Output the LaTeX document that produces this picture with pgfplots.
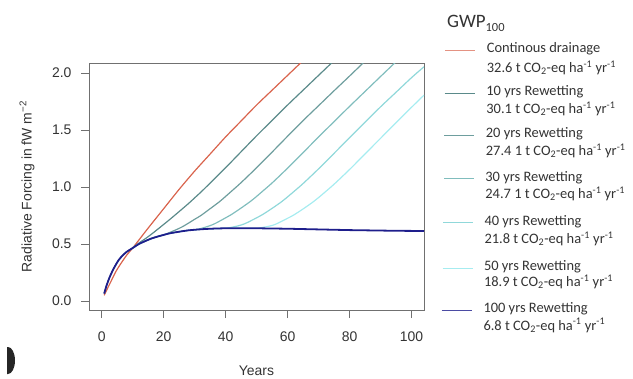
\documentclass[border=0pt]{standalone}
\usepackage{pgfplots}
\pgfplotsset{compat=1.18}
\usepackage{fontspec}
\setmainfont{Liberation Sans}
\newfontfamily\calfont{Carlito}
\definecolor{boxgray}{HTML}{707070}
\definecolor{txt}{HTML}{333333}
\definecolor{cred}{HTML}{D9634C}
\definecolor{cten}{HTML}{5A8A8A}
\definecolor{ctwenty}{HTML}{6E9E9E}
\definecolor{cthirty}{HTML}{80BDBD}
\definecolor{cforty}{HTML}{90D8DA}
\definecolor{cfifty}{HTML}{A6ECF0}
\definecolor{cblue}{HTML}{1E1E8C}

\pgfplotstableread{
x y
0.8 0.05
1.5 0.09
2.5 0.145
3.5 0.2
4.5 0.255
5.5 0.30
6.6 0.345
8 0.40
10 0.465
12 0.535
15 0.64
20 0.81
25 0.98
30 1.14
35 1.29
40 1.44
45 1.58
50 1.72
55 1.85
60 1.98
65 2.11
}\red

\pgfplotstableread{
x y
0.8 0.065
1.5 0.13
2.5 0.205
3.5 0.265
4.5 0.316
5.5 0.36
6.6 0.395
8 0.43
10 0.465
11 0.488
12 0.508
13 0.527
14 0.545
16 0.585
18 0.628
20 0.672
22 0.716
25 0.785
28 0.855
30 0.905
32 0.955
35 1.035
40 1.17
45 1.31
50 1.45
55 1.585
60 1.72
65 1.85
70 1.98
75 2.11
}\ten

\pgfplotstableread{
x y
10 0.465
12 0.50
14 0.525
16 0.548
18 0.565
20 0.58
21 0.59
22 0.602
24 0.625
26 0.651
28 0.683
30 0.717
32 0.75
35 0.81
38 0.871
40 0.918
42 0.966
45 1.039
50 1.17
55 1.307
60 1.446
65 1.583
70 1.714
75 1.845
80 1.974
85 2.105
}\twenty

\pgfplotstableread{
x y
10 0.465
12 0.50
14 0.525
16 0.548
18 0.565
20 0.58
22 0.594
25 0.608
28 0.62
30 0.625
31 0.630
32 0.636
34 0.652
36 0.672
38 0.70
40 0.73
42 0.761
45 0.816
48 0.874
50 0.918
52 0.965
55 1.036
60 1.166
65 1.302
70 1.44
75 1.574
80 1.708
85 1.839
90 1.97
95 2.10
}\thirty

\pgfplotstableread{
x y
10 0.465
12 0.50
14 0.525
16 0.548
18 0.565
20 0.58
22 0.594
25 0.608
28 0.62
30 0.625
33 0.631
36 0.635
40 0.638
41 0.642
42 0.647
44 0.659
46 0.676
48 0.702
50 0.73
52 0.76
55 0.813
58 0.87
60 0.914
62 0.96
65 1.031
70 1.16
75 1.296
80 1.434
85 1.569
90 1.704
95 1.832
100 1.96
104 2.055
}\forty

\pgfplotstableread{
x y
10 0.465
12 0.50
14 0.525
16 0.548
18 0.565
20 0.58
22 0.594
25 0.608
28 0.62
30 0.625
33 0.631
36 0.635
40 0.638
45 0.639
50 0.638
51 0.641
52 0.646
54 0.656
56 0.672
58 0.698
60 0.726
62 0.755
65 0.808
68 0.865
70 0.908
72 0.954
75 1.025
80 1.154
85 1.291
90 1.428
95 1.564
100 1.70
104 1.806
}\fifty

\pgfplotstableread{
x y
0.8 0.065
1.5 0.13
2.5 0.205
3.5 0.265
4.5 0.316
5.5 0.36
6.6 0.395
8 0.43
10 0.465
12 0.50
14 0.525
16 0.548
18 0.565
20 0.58
22 0.594
25 0.608
28 0.62
30 0.625
33 0.631
36 0.635
40 0.638
45 0.639
50 0.638
55 0.636
60 0.634
65 0.631
70 0.628
75 0.625
80 0.622
85 0.62
90 0.618
95 0.616
100 0.615
104 0.614
}\hundred

\begin{document}
\begin{tikzpicture}
\path[use as bounding box] (0bp,0bp) rectangle (633bp,-379bp);
\begin{axis}[
  at={(89bp,-310bp)}, anchor=south west,
  width=335bp, height=247bp, scale only axis,
  xmin=-4.1, xmax=104, ymin=-0.079, ymax=2.088,
  xtick={0,20,40,60,80,100},
  ytick={0,0.5,1,1.5,2},
  tick align=outside, tick pos=left,
  major tick length=8bp,
  axis line style={draw=boxgray, line width=0.9pt},
  tick style={draw=boxgray, line width=0.8pt},
  ticklabel style={font=\fontsize{14}{16}\selectfont, text=txt},
  xticklabel style={yshift=-10bp},
  yticklabel style={xshift=-6bp, /pgf/number format/.cd, fixed, fixed zerofill, precision=1},
  /pgf/number format/assume math mode=true,
  every axis y label/.style={at={(axis description cs:-0.185,0.5)}, rotate=90, anchor=center, font=\fontsize{14}{16}\selectfont, text=txt},
  every axis x label/.style={at={(axis description cs:0.5,-0.245)}, anchor=center, inner sep=0pt, font=\fontsize{14}{16}\selectfont, text=txt},
  xlabel={Years},
  ylabel={Radiative Forcing in fW m\textsuperscript{−2}},
  no markers, smooth, tension=0.5,
]
\addplot[cred, line width=1.2pt] table {\red};
\addplot[cten, line width=1.2pt] table {\ten};
\addplot[ctwenty, line width=1.2pt] table {\twenty};
\addplot[cthirty, line width=1.2pt] table {\thirty};
\addplot[cforty, line width=1.2pt] table {\forty};
\addplot[cfifty, line width=1.2pt] table {\fifty};
\addplot[cblue, line width=1.8pt] table {\hundred};
\end{axis}
% legend
\node[anchor=base west, inner sep=0pt, text=txt, font=\calfont\fontsize{19}{20}\selectfont] at (447bp,-27bp) {GWP\raisebox{-4.5bp}{\fontsize{12.5}{13}\selectfont 100}};
\begin{scope}[every node/.style={anchor=base west, inner sep=0pt, text=txt, font=\calfont\fontsize{14.5}{16}\selectfont}]
\draw[cred!70, line width=0.8pt] (445bp,-50bp) -- (475bp,-50bp);
\node at (486.7bp,-52.7bp) {Continous drainage};
\node at (486.7bp,-72.3bp) {32.6 t CO\textsubscript{2}-eq ha\textsuperscript{-1} yr\textsuperscript{-1}};
\draw[cten, line width=0.8pt] (444.7bp,-93.3bp) -- (474.7bp,-93.3bp);
\node at (486.2bp,-95bp) {10 yrs Rewetting};
\node at (486.2bp,-113.3bp) {30.1 t CO\textsubscript{2}-eq ha\textsuperscript{-1} yr\textsuperscript{-1}};
\draw[ctwenty, line width=0.8pt] (444.3bp,-135bp) -- (474.3bp,-135bp);
\node at (485.7bp,-137.7bp) {20 yrs Rewetting};
\node at (485.7bp,-155.3bp) {27.4 1 t CO\textsubscript{2}-eq ha\textsuperscript{-1} yr\textsuperscript{-1}};
\draw[cthirty, line width=0.8pt] (444bp,-178.3bp) -- (474bp,-178.3bp);
\node at (485.2bp,-181.7bp) {30 yrs Rewetting};
\node at (485.2bp,-198.3bp) {24.7 1 t CO\textsubscript{2}-eq ha\textsuperscript{-1} yr\textsuperscript{-1}};
\draw[cforty, line width=0.8pt] (443.3bp,-222.7bp) -- (473.3bp,-222.7bp);
\node at (484.3bp,-225bp) {40 yrs Rewetting};
\node at (484.3bp,-243.3bp) {21.8 t CO\textsubscript{2}-eq ha\textsuperscript{-1} yr\textsuperscript{-1}};
\draw[cfifty, line width=0.8pt] (442.5bp,-268.3bp) -- (472.5bp,-268.3bp);
\node at (483.8bp,-270.7bp) {50 yrs Rewetting};
\node at (483.8bp,-286.7bp) {18.9 t CO\textsubscript{2}-eq ha\textsuperscript{-1} yr\textsuperscript{-1}};
\draw[cblue!80, line width=0.9pt] (441.7bp,-310bp) -- (471.7bp,-310bp);
\node at (483.3bp,-312.7bp) {100 yrs Rewetting};
\node at (483.3bp,-330bp) {6.8 t CO\textsubscript{2}-eq ha\textsuperscript{-1} yr\textsuperscript{-1}};
\end{scope}
\fill[black!85] (7bp,-347bp) -- (8bp,-347bp) arc[start angle=90, end angle=-90, x radius=7bp, y radius=13.5bp] -- (7bp,-374bp) -- cycle;
\end{tikzpicture}
\end{document}
